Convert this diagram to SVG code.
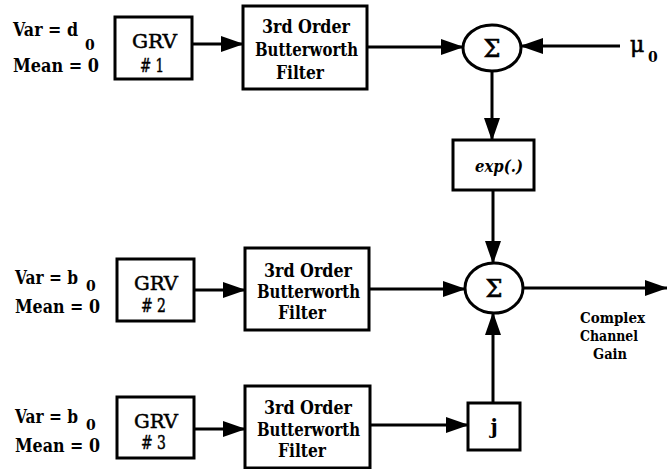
<svg xmlns="http://www.w3.org/2000/svg" width="667" height="469" viewBox="0 0 667 469">
<style>
.box{fill:#fff;stroke:#000;stroke-width:3}
.sum{fill:#fff;stroke:#000;stroke-width:3}
.ln{fill:none;stroke:#000;stroke-width:3;marker-end:url(#ah)}
text{font-family:'DejaVu Serif',serif;font-weight:bold;fill:#000}
.lbl{font-size:19px}
.mid{text-anchor:middle}
.sub{font-size:14px}
.f{font-size:18px}
.g{font-size:19px;font-weight:normal;stroke:#000;stroke-width:0.5}
.sig{font-size:24px;font-weight:normal;stroke:#000;stroke-width:0.6}
.cg{font-size:14px}
</style>
<defs>
<marker id="ah" markerUnits="userSpaceOnUse" markerWidth="24" markerHeight="16" refX="22" refY="8" orient="auto">
<path d="M0,0 L23,8 L0,16 z" fill="#000"/>
</marker>
</defs>
<rect width="667" height="469" fill="#fff"/>
<g id="connectors">
<line class="ln" x1="193" y1="44" x2="243" y2="44"/>
<line class="ln" x1="367" y1="47" x2="463" y2="47"/>
<line class="ln" x1="620" y1="46" x2="521" y2="46"/>
<line class="ln" x1="492" y1="71" x2="492" y2="140"/>
<line class="ln" x1="493" y1="190" x2="493" y2="263"/>
<line class="ln" x1="194" y1="290" x2="245" y2="290"/>
<line class="ln" x1="369" y1="289" x2="465" y2="289"/>
<line class="ln" x1="523" y1="288" x2="667" y2="288"/>
<line class="ln" x1="194" y1="429" x2="245" y2="429"/>
<line class="ln" x1="370" y1="425" x2="468" y2="425"/>
<line class="ln" x1="493" y1="403" x2="493" y2="313"/>
</g>
<g id="label1">
<text class="lbl" x="13" y="36" textLength="65" lengthAdjust="spacingAndGlyphs">Var = d</text>
<text class="sub" x="85" y="50">0</text>
<text class="lbl" x="13" y="72" textLength="86" lengthAdjust="spacingAndGlyphs">Mean = 0</text>
</g>
<g id="grv1">
<rect class="box" x="115" y="17" width="77" height="62"/>
<text class="g" x="132" y="48" textLength="45" lengthAdjust="spacingAndGlyphs">GRV</text>
<text class="g" x="140" y="72" textLength="24" lengthAdjust="spacingAndGlyphs"># 1</text>
</g>
<g id="filter1">
<rect class="box" x="243" y="6" width="124" height="83"/>
<text class="f" x="262" y="33" textLength="88" lengthAdjust="spacingAndGlyphs">3rd Order</text>
<text class="f" x="255" y="56" textLength="103" lengthAdjust="spacingAndGlyphs">Butterworth</text>
<text class="f" x="276" y="79" textLength="48" lengthAdjust="spacingAndGlyphs">Filter</text>
</g>
<g id="sum1">
<ellipse class="sum" cx="492" cy="48" rx="29" ry="23"/>
<text class="sig mid" x="492" y="57">Σ</text>
</g>
<g id="mu0">
<text x="630" y="52" style="font-size:22px;font-weight:normal;stroke:#000;stroke-width:0.6">μ</text>
<text class="sub" x="648" y="62">0</text>
</g>
<g id="exp">
<rect class="box" x="453" y="140" width="81" height="50"/>
<text x="475" y="172" style="font-size:17px;font-style:italic" textLength="48" lengthAdjust="spacingAndGlyphs">exp(.)</text>
</g>
<g id="label2">
<text class="lbl" x="15" y="284" textLength="63" lengthAdjust="spacingAndGlyphs">Var = b</text>
<text class="sub" x="86" y="291">0</text>
<text class="lbl" x="15" y="313" textLength="85" lengthAdjust="spacingAndGlyphs">Mean = 0</text>
</g>
<g id="grv2">
<rect class="box" x="117" y="259" width="77" height="62"/>
<text class="g" x="134" y="290" textLength="44" lengthAdjust="spacingAndGlyphs">GRV</text>
<text class="g" x="141" y="312" textLength="25" lengthAdjust="spacingAndGlyphs"># 2</text>
</g>
<g id="filter2">
<rect class="box" x="245" y="248" width="124" height="82"/>
<text class="f" x="264" y="277" textLength="88" lengthAdjust="spacingAndGlyphs">3rd Order</text>
<text class="f" x="257" y="298" textLength="103" lengthAdjust="spacingAndGlyphs">Butterworth</text>
<text class="f" x="278" y="319" textLength="48" lengthAdjust="spacingAndGlyphs">Filter</text>
</g>
<g id="sum2">
<ellipse class="sum" cx="494" cy="288" rx="29" ry="25"/>
<text class="sig mid" x="494" y="297">Σ</text>
</g>
<g id="output-label">
<text class="cg" x="580" y="323" textLength="65" lengthAdjust="spacingAndGlyphs">Complex</text>
<text class="cg" x="580" y="341" textLength="58" lengthAdjust="spacingAndGlyphs">Channel</text>
<text class="cg" x="593" y="359" textLength="34" lengthAdjust="spacingAndGlyphs">Gain</text>
</g>
<g id="label3">
<text class="lbl" x="15" y="423" textLength="63" lengthAdjust="spacingAndGlyphs">Var = b</text>
<text class="sub" x="86" y="430">0</text>
<text class="lbl" x="15" y="452" textLength="85" lengthAdjust="spacingAndGlyphs">Mean = 0</text>
</g>
<g id="grv3">
<rect class="box" x="117" y="397" width="77" height="61"/>
<text class="g" x="134" y="428" textLength="44" lengthAdjust="spacingAndGlyphs">GRV</text>
<text class="g" x="141" y="449" textLength="25" lengthAdjust="spacingAndGlyphs"># 3</text>
</g>
<g id="filter3">
<rect class="box" x="245" y="386" width="125" height="82"/>
<text class="f" x="264" y="414" textLength="88" lengthAdjust="spacingAndGlyphs">3rd Order</text>
<text class="f" x="257" y="436" textLength="103" lengthAdjust="spacingAndGlyphs">Butterworth</text>
<text class="f" x="278" y="457" textLength="48" lengthAdjust="spacingAndGlyphs">Filter</text>
</g>
<g id="j">
<rect class="box" x="468" y="403" width="52" height="47"/>
<text class="mid" x="494" y="434" style="font-size:20px">j</text>
</g>
</svg>
